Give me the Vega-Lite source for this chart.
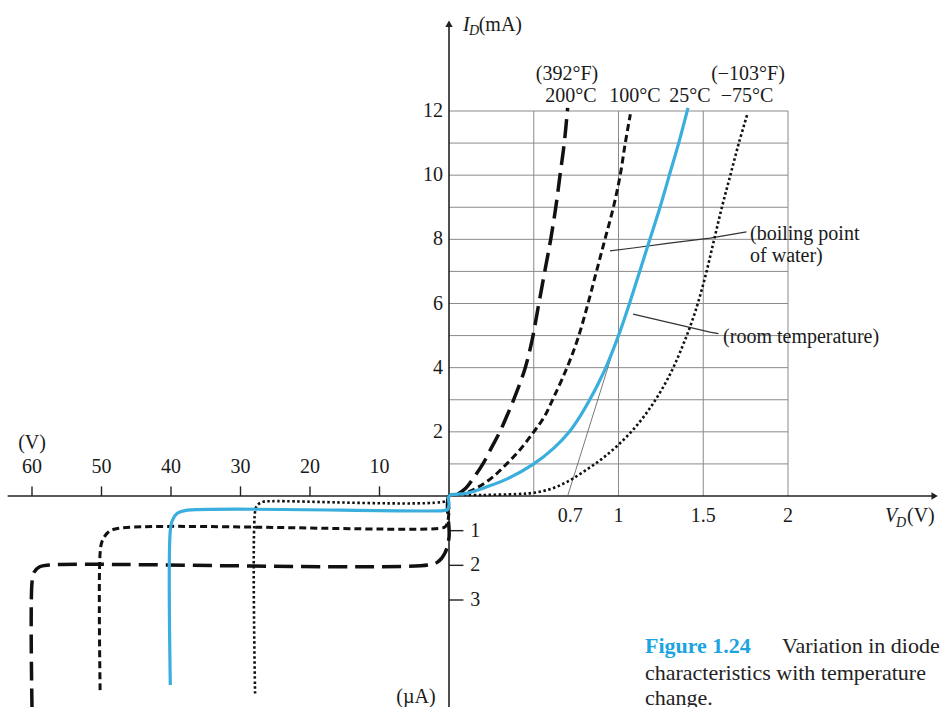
{
  "$schema": "https://vega.github.io/schema/vega-lite/v6.json",
  "width": 945,
  "height": 707,
  "autosize": "none",
  "padding": 0,
  "background": "white",
  "config": {"view": {"stroke": null}, "text": {"font": "Liberation Serif", "color": "#1a1a1a", "fontSize": 20}},
  "datasets": {
    "curves": [
      {"s": "200", "o": 0, "v": -60, "i": -6.1},
      {"s": "200", "o": 1, "v": -60, "i": -2.5},
      {"s": "200", "o": 2, "v": -59.7, "i": -2.2},
      {"s": "200", "o": 3, "v": -58.9, "i": -2.04},
      {"s": "200", "o": 4, "v": -57.5, "i": -1.99},
      {"s": "200", "o": 5, "v": -3, "i": -1.99},
      {"s": "200", "o": 6, "v": -1.6, "i": -1.9},
      {"s": "200", "o": 7, "v": -0.6, "i": -1.65},
      {"s": "200", "o": 8, "v": 0, "i": -1.2},
      {"s": "200", "o": 9, "v": 0, "i": 0},
      {"s": "200", "o": 10, "v": 0.05, "i": 0.06},
      {"s": "200", "o": 11, "v": 0.1, "i": 0.25},
      {"s": "200", "o": 12, "v": 0.15, "i": 0.6},
      {"s": "200", "o": 13, "v": 0.2, "i": 1.0},
      {"s": "200", "o": 14, "v": 0.25, "i": 1.5},
      {"s": "200", "o": 15, "v": 0.3, "i": 2.0},
      {"s": "200", "o": 16, "v": 0.35, "i": 2.6},
      {"s": "200", "o": 17, "v": 0.4, "i": 3.25},
      {"s": "200", "o": 18, "v": 0.45, "i": 4.0},
      {"s": "200", "o": 19, "v": 0.49, "i": 4.85},
      {"s": "200", "o": 20, "v": 0.525, "i": 5.85},
      {"s": "200", "o": 21, "v": 0.565, "i": 7},
      {"s": "200", "o": 22, "v": 0.6, "i": 8},
      {"s": "200", "o": 23, "v": 0.63, "i": 9},
      {"s": "200", "o": 24, "v": 0.655, "i": 10},
      {"s": "200", "o": 25, "v": 0.68, "i": 11},
      {"s": "200", "o": 26, "v": 0.7, "i": 12.1},
      {"s": "100", "o": 0, "v": -50.2, "i": -5.6},
      {"s": "100", "o": 1, "v": -50.2, "i": -1.65},
      {"s": "100", "o": 2, "v": -49.9, "i": -1.3},
      {"s": "100", "o": 3, "v": -49, "i": -1.04},
      {"s": "100", "o": 4, "v": -47.5, "i": -0.93},
      {"s": "100", "o": 5, "v": -1.2, "i": -0.93},
      {"s": "100", "o": 6, "v": -0.5, "i": -0.88},
      {"s": "100", "o": 7, "v": -0.15, "i": -0.7},
      {"s": "100", "o": 8, "v": 0, "i": -0.4},
      {"s": "100", "o": 9, "v": 0, "i": 0},
      {"s": "100", "o": 10, "v": 0.1, "i": 0.1},
      {"s": "100", "o": 11, "v": 0.18, "i": 0.3},
      {"s": "100", "o": 12, "v": 0.26, "i": 0.6},
      {"s": "100", "o": 13, "v": 0.34, "i": 1.0},
      {"s": "100", "o": 14, "v": 0.42, "i": 1.45},
      {"s": "100", "o": 15, "v": 0.5, "i": 2.0},
      {"s": "100", "o": 16, "v": 0.56, "i": 2.45},
      {"s": "100", "o": 17, "v": 0.62, "i": 3.1},
      {"s": "100", "o": 18, "v": 0.7, "i": 4.05},
      {"s": "100", "o": 19, "v": 0.76, "i": 4.9},
      {"s": "100", "o": 20, "v": 0.82, "i": 6},
      {"s": "100", "o": 21, "v": 0.87, "i": 7},
      {"s": "100", "o": 22, "v": 0.92, "i": 8},
      {"s": "100", "o": 23, "v": 0.97, "i": 9},
      {"s": "100", "o": 24, "v": 1.01, "i": 10},
      {"s": "100", "o": 25, "v": 1.04, "i": 11},
      {"s": "100", "o": 26, "v": 1.07, "i": 11.9},
      {"s": "25", "o": 0, "v": -40.1, "i": -5.45},
      {"s": "25", "o": 1, "v": -40.1, "i": -1.0},
      {"s": "25", "o": 2, "v": -39.8, "i": -0.7},
      {"s": "25", "o": 3, "v": -39.1, "i": -0.5},
      {"s": "25", "o": 4, "v": -38, "i": -0.42},
      {"s": "25", "o": 5, "v": -0.8, "i": -0.42},
      {"s": "25", "o": 6, "v": -0.2, "i": -0.39},
      {"s": "25", "o": 7, "v": 0, "i": -0.25},
      {"s": "25", "o": 8, "v": 0, "i": 0},
      {"s": "25", "o": 9, "v": 0.1, "i": 0.08},
      {"s": "25", "o": 10, "v": 0.22, "i": 0.28},
      {"s": "25", "o": 11, "v": 0.35, "i": 0.55},
      {"s": "25", "o": 12, "v": 0.5, "i": 1.0},
      {"s": "25", "o": 13, "v": 0.62, "i": 1.5},
      {"s": "25", "o": 14, "v": 0.71, "i": 2.0},
      {"s": "25", "o": 15, "v": 0.775, "i": 2.5},
      {"s": "25", "o": 16, "v": 0.83, "i": 3.0},
      {"s": "25", "o": 17, "v": 0.88, "i": 3.5},
      {"s": "25", "o": 18, "v": 0.925, "i": 4.0},
      {"s": "25", "o": 19, "v": 1.0, "i": 5.0},
      {"s": "25", "o": 20, "v": 1.065, "i": 6},
      {"s": "25", "o": 21, "v": 1.125, "i": 7},
      {"s": "25", "o": 22, "v": 1.185, "i": 8},
      {"s": "25", "o": 23, "v": 1.245, "i": 9},
      {"s": "25", "o": 24, "v": 1.3, "i": 10},
      {"s": "25", "o": 25, "v": 1.355, "i": 11},
      {"s": "25", "o": 26, "v": 1.41, "i": 12.1},
      {"s": "m75", "o": 0, "v": -27.9, "i": -5.7},
      {"s": "m75", "o": 1, "v": -27.9, "i": -0.45},
      {"s": "m75", "o": 2, "v": -27.6, "i": -0.27},
      {"s": "m75", "o": 3, "v": -26.8, "i": -0.17},
      {"s": "m75", "o": 4, "v": -25.5, "i": -0.15},
      {"s": "m75", "o": 5, "v": -0.5, "i": -0.15},
      {"s": "m75", "o": 6, "v": 0, "i": -0.06},
      {"s": "m75", "o": 7, "v": 0, "i": 0},
      {"s": "m75", "o": 8, "v": 0.2, "i": 0.03},
      {"s": "m75", "o": 9, "v": 0.4, "i": 0.06},
      {"s": "m75", "o": 10, "v": 0.5, "i": 0.1},
      {"s": "m75", "o": 11, "v": 0.6, "i": 0.22},
      {"s": "m75", "o": 12, "v": 0.7, "i": 0.45},
      {"s": "m75", "o": 13, "v": 0.8, "i": 0.78},
      {"s": "m75", "o": 14, "v": 0.9, "i": 1.15},
      {"s": "m75", "o": 15, "v": 1.0, "i": 1.6},
      {"s": "m75", "o": 16, "v": 1.1, "i": 2.15},
      {"s": "m75", "o": 17, "v": 1.2, "i": 2.85},
      {"s": "m75", "o": 18, "v": 1.3, "i": 3.75},
      {"s": "m75", "o": 19, "v": 1.38, "i": 4.7},
      {"s": "m75", "o": 20, "v": 1.45, "i": 5.7},
      {"s": "m75", "o": 21, "v": 1.51, "i": 6.8},
      {"s": "m75", "o": 22, "v": 1.56, "i": 7.9},
      {"s": "m75", "o": 23, "v": 1.61, "i": 9.0},
      {"s": "m75", "o": 24, "v": 1.66, "i": 10.0},
      {"s": "m75", "o": 25, "v": 1.71, "i": 11.0},
      {"s": "m75", "o": 26, "v": 1.76, "i": 11.9}
    ],
    "gridH": [
      {"i": 1, "v": 0, "v2": 2}, {"i": 2, "v": 0, "v2": 2}, {"i": 3, "v": 0, "v2": 2}, {"i": 4, "v": 0, "v2": 2},
      {"i": 5, "v": 0, "v2": 2}, {"i": 6, "v": 0, "v2": 2}, {"i": 7, "v": 0, "v2": 2}, {"i": 8, "v": 0, "v2": 2},
      {"i": 9, "v": 0, "v2": 2}, {"i": 10, "v": 0, "v2": 2}, {"i": 11, "v": 0, "v2": 2}, {"i": 12, "v": 0, "v2": 2}
    ],
    "gridV": [{"v": 0.5, "i": 0, "i2": 12}, {"v": 1, "i": 0, "i2": 12}, {"v": 1.5, "i": 0, "i2": 12}, {"v": 2, "i": 0, "i2": 12}],
    "axes": [{"v": -63.5, "i": 0, "v2": 2.86, "i2": 0}, {"v": 0, "i": -6.2, "v2": 0, "i2": 14.7}],
    "revXTicks": [{"v": -10, "i": 0, "i2": 0.3}, {"v": -20, "i": 0, "i2": 0.3}, {"v": -30, "i": 0, "i2": 0.3}, {"v": -40, "i": 0, "i2": 0.3}, {"v": -50, "i": 0, "i2": 0.3}, {"v": -60, "i": 0, "i2": 0.3}],
    "revYTicks": [{"i": -1, "v": 0, "v2": 0.085}, {"i": -2, "v": 0, "v2": 0.085}, {"i": -3, "v": 0, "v2": 0.085}],
    "tangent": [{"v": 0.7, "i": 0}, {"v": 0.955, "i": 4.3}],
    "connectors": [
      {"g": "boil", "o": 0, "v": 0.95, "i": 7.64},
      {"g": "boil", "o": 1, "v": 1.086, "i": 7.73},
      {"g": "boil", "o": 2, "v": 1.3, "i": 7.88},
      {"g": "boil", "o": 3, "v": 1.54, "i": 8.04},
      {"g": "boil", "o": 4, "v": 1.755, "i": 8.23},
      {"g": "room", "o": 0, "v": 1.086, "i": 5.67},
      {"g": "room", "o": 1, "v": 1.54, "i": 5.11},
      {"g": "room", "o": 2, "v": 1.59, "i": 5.06}
    ],
    "yLabels": [{"v": -0.86, "i": 12, "t": "12"}, {"v": -0.86, "i": 10, "t": "10"}, {"v": -0.86, "i": 8, "t": "8"}, {"v": -0.86, "i": 6, "t": "6"}, {"v": -0.86, "i": 4, "t": "4"}, {"v": -0.86, "i": 2, "t": "2"}],
    "xLabelsCenter": [
      {"v": 0.715, "i": -0.75, "t": "0.7"}, {"v": 1, "i": -0.75, "t": "1"}, {"v": 1.5, "i": -0.75, "t": "1.5"}, {"v": 2, "i": -0.75, "t": "2"},
      {"v": -60, "i": 0.72, "t": "60"}, {"v": -50, "i": 0.72, "t": "50"}, {"v": -40, "i": 0.72, "t": "40"}, {"v": -30, "i": 0.72, "t": "30"}, {"v": -20, "i": 0.72, "t": "20"}, {"v": -10, "i": 0.72, "t": "10"},
      {"v": -60, "i": 1.45, "t": "(V)"}, {"v": -4.75, "i": -5.97, "t": "(µA)"},
      {"v": 0.696, "i": 12.97, "t": "(392°F)"}, {"v": 0.72, "i": 12.28, "t": "200°C"}, {"v": 1.097, "i": 12.28, "t": "100°C"}, {"v": 1.422, "i": 12.28, "t": "25°C"}, {"v": 1.758, "i": 12.28, "t": "−75°C"}, {"v": 1.764, "i": 12.97, "t": "(−103°F)"}
    ],
    "revYLabels": [{"v": 0.125, "i": -1, "t": "1"}, {"v": 0.125, "i": -2, "t": "2"}, {"v": 0.125, "i": -3, "t": "3"}],
    "leftLabels": [
      {"v": 1.776, "i": 7.98, "t": "(boiling point"}, {"v": 1.776, "i": 7.29, "t": "of water)"}, {"v": 1.617, "i": 4.77, "t": "(room temperature)"},
      {"v": 0.175, "i": 14.5, "t": "(mA)"}, {"v": 2.702, "i": -0.75, "t": "(V)"}
    ],
    "italicMain": [{"v": 0.083, "i": 14.5, "t": "I"}, {"v": 2.572, "i": -0.75, "t": "V"}],
    "italicSub": [{"v": 0.118, "i": 14.37, "t": "D"}, {"v": 2.637, "i": -0.89, "t": "D"}],
    "captionBold": [{"v": 1.156, "i": -4.53, "t": "Figure 1.24"}],
    "caption": [{"v": 1.965, "i": -4.53, "t": "Variation in diode"}, {"v": 1.156, "i": -5.31, "t": "characteristics with temperature"}, {"v": 1.156, "i": -6.03, "t": "change."}]
  },
  "encoding": {
    "x": {"field": "v", "type": "quantitative", "scale": {"domain": [-60, 0, 2], "range": [32, 449, 788], "nice": false, "zero": false}, "axis": null},
    "y": {"field": "i", "type": "quantitative", "scale": {"domain": [-3, 0, 12], "range": [600, 496, 111], "nice": false, "zero": false}, "axis": null}
  },
  "layer": [
    {"data": {"name": "gridH"}, "mark": {"type": "rule", "color": "#8a8a8a", "strokeWidth": 1}, "encoding": {"x2": {"field": "v2"}}},
    {"data": {"name": "gridV"}, "mark": {"type": "rule", "color": "#8a8a8a", "strokeWidth": 1}, "encoding": {"y2": {"field": "i2"}}},
    {"data": {"name": "axes"}, "mark": {"type": "rule", "color": "#222222", "strokeWidth": 1.6}, "encoding": {"x2": {"field": "v2"}, "y2": {"field": "i2"}}},
    {"data": {"values": [{"v": 0, "i": 14.72}]}, "mark": {"type": "point", "shape": "triangle-up", "filled": true, "color": "#222222", "size": 55, "opacity": 1}, "encoding": {}},
    {"data": {"values": [{"v": 2.865, "i": 0}]}, "mark": {"type": "point", "shape": "triangle-right", "filled": true, "color": "#222222", "size": 55, "opacity": 1}, "encoding": {}},
    {"data": {"name": "revXTicks"}, "mark": {"type": "rule", "color": "#222222", "strokeWidth": 1.4}, "encoding": {"y2": {"field": "i2"}}},
    {"data": {"name": "revYTicks"}, "mark": {"type": "rule", "color": "#222222", "strokeWidth": 1.4}, "encoding": {"x2": {"field": "v2"}}},
    {"data": {"name": "tangent"}, "mark": {"type": "line", "color": "#555555", "strokeWidth": 0.8}, "encoding": {}},
    {"data": {"name": "connectors"}, "mark": {"type": "line", "color": "#333333", "strokeWidth": 1.2}, "encoding": {"detail": {"field": "g"}, "order": {"field": "o", "type": "quantitative"}}},
    {"data": {"name": "curves"}, "transform": [{"filter": "datum.s == '200'"}], "mark": {"type": "line", "color": "#111111", "strokeWidth": 3.5, "strokeDash": [19, 8], "interpolate": "catmull-rom"}, "encoding": {"order": {"field": "o", "type": "quantitative"}}},
    {"data": {"name": "curves"}, "transform": [{"filter": "datum.s == '100'"}], "mark": {"type": "line", "color": "#111111", "strokeWidth": 3, "strokeDash": [7, 4], "interpolate": "catmull-rom"}, "encoding": {"order": {"field": "o", "type": "quantitative"}}},
    {"data": {"name": "curves"}, "transform": [{"filter": "datum.s == 'm75'"}], "mark": {"type": "line", "color": "#111111", "strokeWidth": 2.6, "strokeDash": [2.5, 2.5], "interpolate": "catmull-rom"}, "encoding": {"order": {"field": "o", "type": "quantitative"}}},
    {"data": {"name": "curves"}, "transform": [{"filter": "datum.s == '25'"}], "mark": {"type": "line", "color": "#3aaedc", "strokeWidth": 3.2, "interpolate": "catmull-rom"}, "encoding": {"order": {"field": "o", "type": "quantitative"}}},
    {"data": {"name": "yLabels"}, "mark": {"type": "text", "align": "right", "baseline": "middle"}, "encoding": {"text": {"field": "t"}}},
    {"data": {"name": "xLabelsCenter"}, "mark": {"type": "text", "align": "center", "baseline": "alphabetic"}, "encoding": {"text": {"field": "t"}}},
    {"data": {"name": "revYLabels"}, "mark": {"type": "text", "align": "left", "baseline": "middle"}, "encoding": {"text": {"field": "t"}}},
    {"data": {"name": "leftLabels"}, "mark": {"type": "text", "align": "left", "baseline": "alphabetic"}, "encoding": {"text": {"field": "t"}}},
    {"data": {"name": "italicMain"}, "mark": {"type": "text", "align": "left", "baseline": "alphabetic", "fontStyle": "italic"}, "encoding": {"text": {"field": "t"}}},
    {"data": {"name": "italicSub"}, "mark": {"type": "text", "align": "left", "baseline": "alphabetic", "fontStyle": "italic", "fontSize": 14}, "encoding": {"text": {"field": "t"}}},
    {"data": {"name": "captionBold"}, "mark": {"type": "text", "align": "left", "baseline": "alphabetic", "fontWeight": "bold", "fontSize": 22, "color": "#1ca3e2"}, "encoding": {"text": {"field": "t"}}},
    {"data": {"name": "caption"}, "mark": {"type": "text", "align": "left", "baseline": "alphabetic", "fontSize": 22, "color": "#222222"}, "encoding": {"text": {"field": "t"}}}
  ]
}
